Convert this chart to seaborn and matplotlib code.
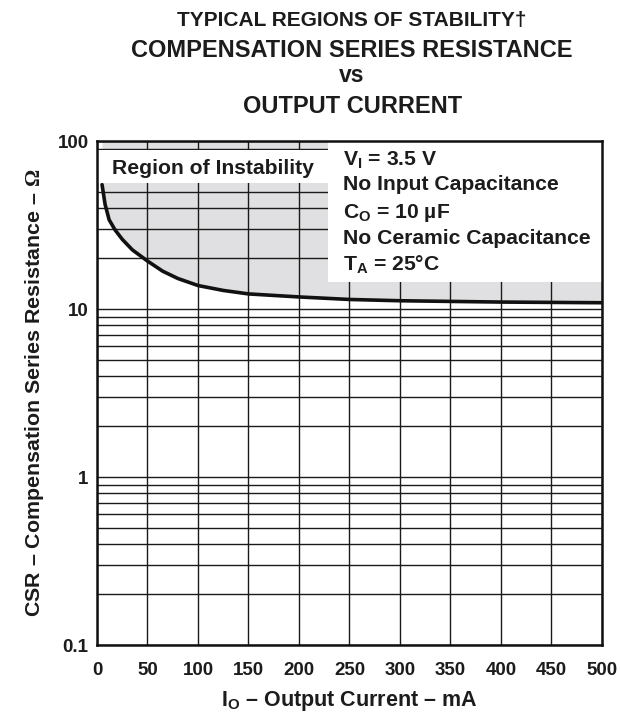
import matplotlib
matplotlib.use("Agg")
import matplotlib.pyplot as plt
import matplotlib.ticker as mticker
from matplotlib.patches import Rectangle
import numpy as np
import pandas as pd
import seaborn as sns

# curve (output current in mA, CSR in ohms)
current_ma = [5, 8, 12, 18, 25, 35, 50, 65, 80, 100, 125, 150, 200, 250, 300, 350, 400, 450, 500]
csr_ohm = [55, 42, 34, 29.5, 26, 22.5, 19.3, 16.8, 15.2, 13.8, 12.9, 12.3, 11.8, 11.4, 11.2, 11.1, 11.0, 10.95, 10.9]

x_ticks = [0, 50, 100, 150, 200, 250, 300, 350, 400, 450, 500]
y_ticks = [0.1, 1, 10, 100]
y_tick_labels = ["0.1", "1", "10", "100"]

conditions = [
    r"V$_\mathbf{I}$ = 3.5 V",
    "No Input Capacitance",
    r"C$_\mathbf{O}$ = 10 µF",
    "No Ceramic Capacitance",
    r"T$_\mathbf{A}$ = 25°C",
]

sns.set_style("white")
plt.rcParams["font.family"] = ["Liberation Sans", "DejaVu Sans"]
plt.rcParams["font.weight"] = "bold"
plt.rcParams["mathtext.fontset"] = "custom"
plt.rcParams["mathtext.bf"] = "Liberation Sans:bold"
plt.rcParams["mathtext.rm"] = "Liberation Serif"
plt.rcParams["mathtext.it"] = "Liberation Sans:bold"

TXT = "#1c1c1c"

df = pd.DataFrame({"current": current_ma, "csr": csr_ohm})

fig = plt.figure(figsize=(6.21, 7.14), dpi=100)
ax = fig.add_axes([0.1562, 0.0966, 0.8132, 0.7059])

ax.set_yscale("log")
ax.set_xlim(0, 500)
ax.set_ylim(0.1, 100)

# instability region
ax.fill_between(df["current"], df["csr"], 100, color="#e0e0e2", zorder=1, linewidth=0)

ax.set_axisbelow(False)
ax.xaxis.set_major_locator(mticker.FixedLocator(x_ticks))
ax.yaxis.set_major_locator(mticker.FixedLocator(y_ticks))
ax.yaxis.set_major_formatter(mticker.FixedFormatter(y_tick_labels))
ax.yaxis.set_minor_locator(mticker.LogLocator(base=10, subs=np.arange(2, 10)))
ax.yaxis.set_minor_formatter(mticker.NullFormatter())
ax.grid(which="major", axis="both", color="#1a1a1a", linewidth=1.0, zorder=2)
ax.grid(which="minor", axis="y", color="#1a1a1a", linewidth=1.0, zorder=2)

sns.lineplot(data=df, x="current", y="csr", ax=ax, color="#111111", linewidth=2.6, zorder=5)

# white label boxes
ax.add_patch(Rectangle((0.0, 0.917), 0.457, 0.065, transform=ax.transAxes,
                       facecolor="white", edgecolor="none", zorder=6))
ax.add_patch(Rectangle((0.457, 0.720), 0.543, 0.278, transform=ax.transAxes,
                       facecolor="white", edgecolor="none", zorder=6))

ax.text(0.030, 0.934, "Region of Instability", transform=ax.transAxes,
        fontsize=15.2, fontweight="bold", color=TXT, va="baseline", zorder=7)

line_y = [0.951, 0.902, 0.848, 0.795, 0.743]
for txt, yy in zip(conditions, line_y):
    ax.text(0.487, yy, txt, transform=ax.transAxes, fontsize=15.2,
            fontweight="bold", color=TXT, va="baseline", zorder=7)

ax.tick_params(axis="both", which="both", length=0, labelsize=13.5, colors=TXT)
ax.tick_params(axis="x", pad=12.5)
ax.tick_params(axis="y", pad=6)
for lbl in ax.get_xticklabels() + ax.get_yticklabels():
    lbl.set_fontweight("bold")

for sp in ax.spines.values():
    sp.set_visible(True)
    sp.set_color("#111111")
    sp.set_linewidth(1.8)
    sp.set_zorder(8)

ax.set_xlabel(r"I$_\mathbf{O}$ – Output Current – mA", fontsize=15.5, fontweight="bold",
              color=TXT, labelpad=7)
ax.set_ylabel(r"CSR – Compensation Series Resistance – $\mathrm{\Omega}$", fontsize=15.4,
              fontweight="bold", color=TXT, labelpad=8)

tx = 0.567
fig.text(tx, 0.9636, "TYPICAL REGIONS OF STABILITY†", ha="center", va="baseline",
         fontsize=15, fontweight="bold", color=TXT)
fig.text(tx, 0.920, "COMPENSATION SERIES RESISTANCE", ha="center", va="baseline",
         fontsize=17, fontweight="bold", color=TXT)
fig.text(tx, 0.885, "vs", ha="center", va="baseline",
         fontsize=16.5, fontweight="bold", color=TXT)
fig.text(tx, 0.842, "OUTPUT CURRENT", ha="center", va="baseline",
         fontsize=17, fontweight="bold", color=TXT)

fig.savefig("out.png", dpi=100)
